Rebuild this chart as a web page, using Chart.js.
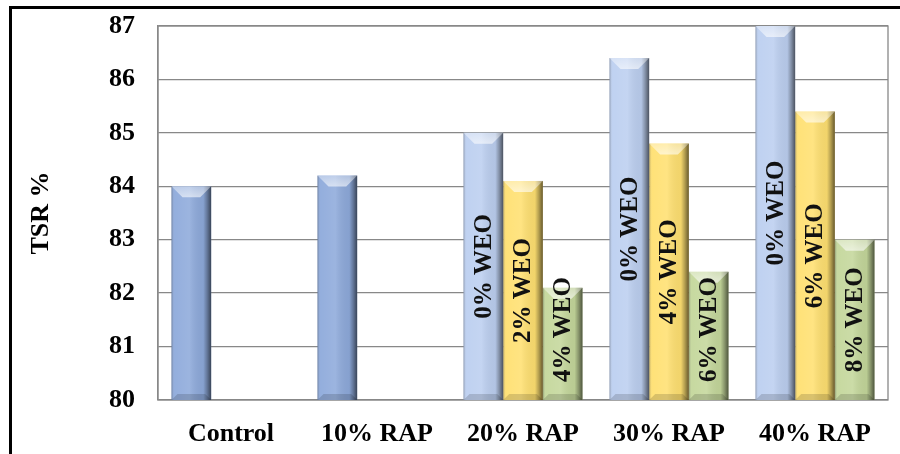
<!DOCTYPE html>
<html>
<head>
<meta charset="utf-8">
<script src="https://cdn.jsdelivr.net/npm/chart.js@4/dist/chart.umd.min.js"></script>
<style>
  body { margin: 0; background: #fff; }
  #wrap { position: relative; width: 900px; height: 454px; overflow: hidden; }
  #frame { position: absolute; left: 9px; top: 6px; width: 900px; height: 460px;
           border-left: 3px solid #000; border-top: 3px solid #000; pointer-events: none; }
</style>
</head>
<body>
<div id="wrap">
  <canvas id="myChart" width="900" height="454"></canvas>
  <div id="frame"></div>
</div>
<script>
// categories and values
var categories = ['Control', '10% RAP', '20% RAP', '30% RAP', '40% RAP'];
var tsrFirst  = [84.0, 84.2, 85.0, 86.4, 87.0];
var tsrSecond = [null, null, 84.1, 84.8, 85.4];
var tsrThird  = [null, null, 82.1, 82.4, 83.0];
var weoFirst  = [null, null, '0% WEO', '0% WEO', '0% WEO'];
var weoSecond = [null, null, '2% WEO', '4% WEO', '6% WEO'];
var weoThird  = [null, null, '4% WEO', '6% WEO', '8% WEO'];
var yTicks = [80, 81, 82, 83, 84, 85, 86, 87];

var serif = "'Liberation Serif', 'Times New Roman', serif";

// bevel shading + labels inside the bars
var bevelPlugin = {
  id: 'bevel',
  beforeDatasetsDraw: function(chart) {
    var a = chart.chartArea, c = chart.ctx;
    c.save();
    c.strokeStyle = '#888';
    c.lineWidth = 1.3;
    c.strokeRect(a.left, a.top, a.right - a.left, a.bottom - a.top);
    c.restore();
  },
  afterDatasetsDraw: function(chart) {
    var c = chart.ctx;
    var area = chart.chartArea;
    var labelSets = [weoFirst, weoSecond, weoThird];
    chart.data.datasets.forEach(function(ds, di) {
      var meta = chart.getDatasetMeta(di);
      meta.data.forEach(function(el, i) {
        if (ds.data[i] == null) return;
        var p = el.getProps(['x', 'y', 'base', 'width'], true);
        var l = p.x - p.width / 2, r = p.x + p.width / 2;
        var t = Math.max(p.y, area.top), b = Math.min(p.base, area.bottom);
        c.save();
        var g = c.createLinearGradient(l, 0, r, 0);
        g.addColorStop(0, 'rgba(0,0,0,0.28)');
        g.addColorStop(0.07, 'rgba(255,255,255,0.05)');
        g.addColorStop(0.45, 'rgba(255,255,255,0.12)');
        g.addColorStop(0.8, 'rgba(0,0,0,0.05)');
        g.addColorStop(0.9, 'rgba(0,0,0,0.3)');
        g.addColorStop(1, 'rgba(0,0,0,0.6)');
        c.fillStyle = g;
        c.fillRect(l, t, r - l, b - t);
        // top bevel
        var bv = 11;
        var tg = c.createLinearGradient(0, t, 0, t + bv);
        tg.addColorStop(0, 'rgba(255,255,255,0.35)');
        tg.addColorStop(1, 'rgba(255,255,255,0.6)');
        c.beginPath();
        c.moveTo(l, t); c.lineTo(r, t); c.lineTo(r - bv, t + bv); c.lineTo(l + bv, t + bv);
        c.closePath();
        c.fillStyle = tg;
        c.fill();
        // bottom bevel
        c.beginPath();
        c.moveTo(l, b); c.lineTo(r, b); c.lineTo(r - 6, b - 6); c.lineTo(l + 6, b - 6);
        c.closePath();
        c.fillStyle = 'rgba(0,0,0,0.15)';
        c.fill();
        // label
        var txt = labelSets[di][i];
        if (txt) {
          c.font = 'bold 25px ' + serif;
          var len = c.measureText(txt).width;
          var cy = (t + b) / 2;
          if (cy + len / 2 > b - 18) cy = b - 18 - len / 2;
          c.translate(p.x + 1, cy);
          c.rotate(-Math.PI / 2);
          c.textAlign = 'center';
          c.textBaseline = 'middle';
          c.fillStyle = '#111';
          c.fillText(txt, 0, 0);
        }
        c.restore();
      });
    });
  }
};

var ctx = document.getElementById('myChart');
var myChart = new Chart(ctx, {
  type: 'bar',
  data: {
    labels: categories,
    datasets: [{
      data: tsrFirst,
      backgroundColor: ['#8eaadb', '#8eaadb', '#bccff0', '#bccff0', '#bccff0']
    }, {
      data: tsrSecond,
      backgroundColor: '#ffe071'
    }, {
      data: tsrThird,
      backgroundColor: '#c4d79b'
    }]
  },
  options: {
    responsive: false,
    animation: false,
    devicePixelRatio: 1,
    categoryPercentage: 0.815,
    barPercentage: 1,
    layout: { padding: { top: 26, right: 12, left: 0, bottom: 0 } },
    plugins: {
      legend: { display: false },
      tooltip: { enabled: false }
    },
    scales: {
      x: {
        grid: { display: false },
        border: { display: false },
        ticks: {
          color: '#000',
          font: { family: serif, size: 26, weight: 'bold' },
          padding: 11,
          maxRotation: 0
        },
        afterFit: function(scale) { scale.height = 54; }
      },
      y: {
        min: 80,
        max: 87,
        afterBuildTicks: function(scale) {
          scale.ticks = yTicks.map(function(v) { return { value: v }; });
        },
        grid: { color: '#888', lineWidth: 1.3, drawTicks: true, tickLength: 23, tickColor: 'rgba(0,0,0,0)' },
        border: { color: '#888', width: 1.3 },
        ticks: {
          color: '#000',
          font: { family: serif, size: 26, weight: 'bold' },
          padding: 0
        },
        title: {
          display: true,
          text: 'TSR %',
          color: '#000',
          font: { family: serif, size: 26, weight: 'bold' },
          padding: { top: 26, bottom: 0 }
        },
        afterFit: function(scale) { scale.width = 158; }
      }
    }
  },
  plugins: [bevelPlugin]
});
</script>
</body>
</html>
